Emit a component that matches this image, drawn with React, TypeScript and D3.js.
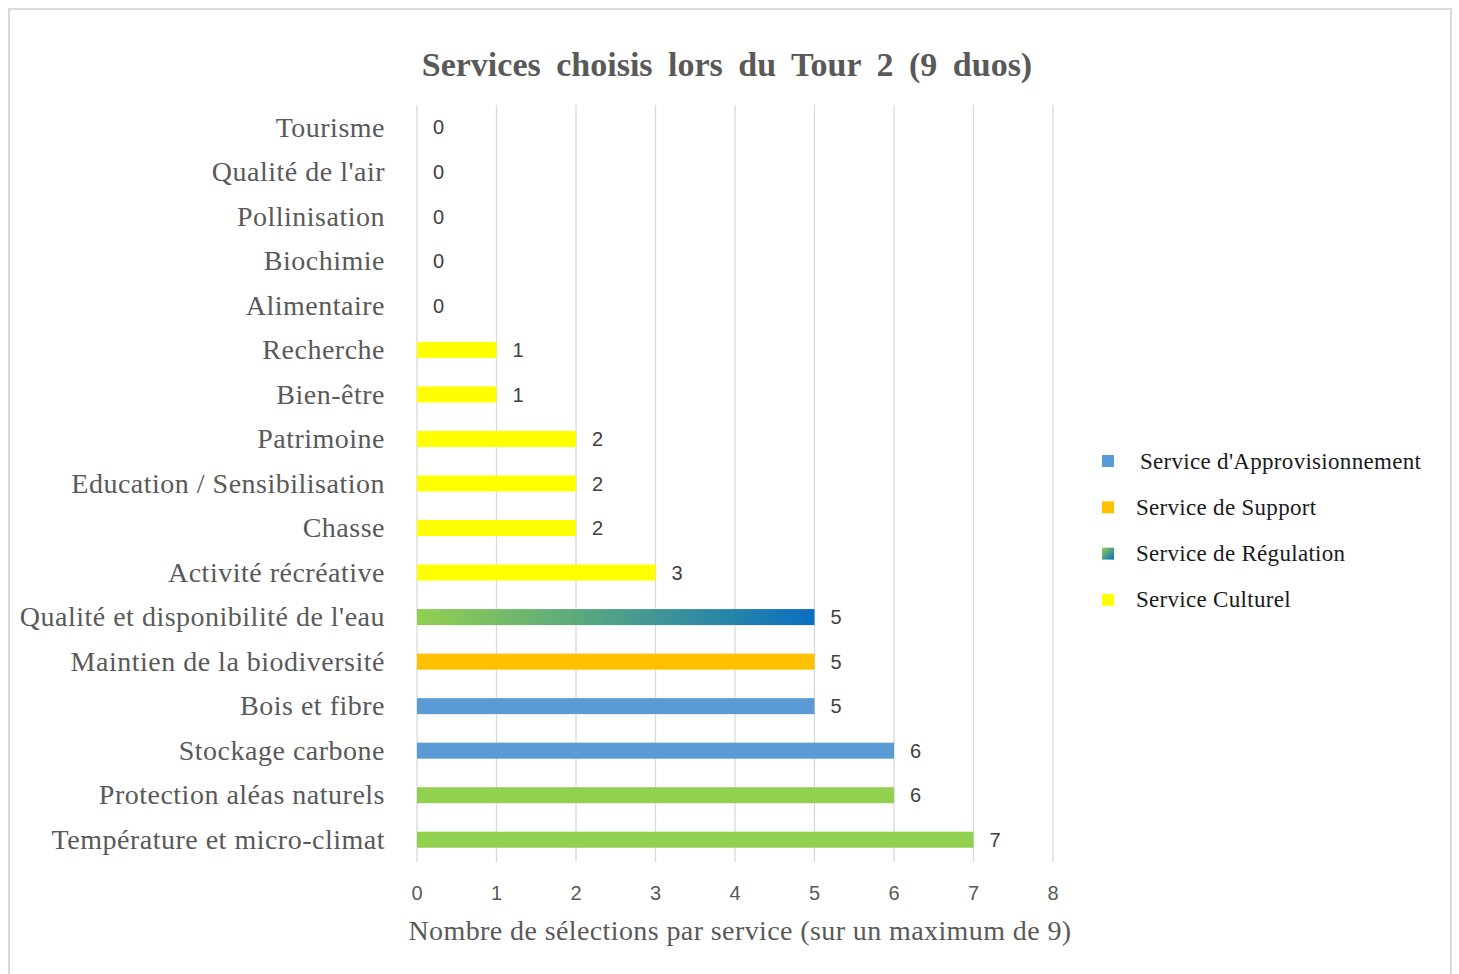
import * as d3 from 'd3';

const categories = [
  'Tourisme', "Qualité de l'air", 'Pollinisation', 'Biochimie', 'Alimentaire',
  'Recherche', 'Bien-être', 'Patrimoine', 'Education / Sensibilisation', 'Chasse',
  'Activité récréative', "Qualité et disponibilité de l'eau", 'Maintien de la biodiversité',
  'Bois et fibre', 'Stockage carbone', 'Protection aléas naturels', 'Température et micro-climat',
];
const values = [0, 0, 0, 0, 0, 1, 1, 2, 2, 2, 3, 5, 5, 5, 6, 6, 7];
const serviceType = [
  'cult', 'reg', 'reg', 'appro', 'appro',
  'cult', 'cult', 'cult', 'cult', 'cult',
  'cult', 'reg2', 'supp', 'appro', 'appro', 'reg', 'reg',
];
const xTicks = [0, 1, 2, 3, 4, 5, 6, 7, 8];
const legendItems = [
  { key: 'appro', label: "Service d'Approvisionnement" },
  { key: 'supp', label: 'Service de Support' },
  { key: 'reg2', label: 'Service de Régulation' },
  { key: 'cult', label: 'Service Culturel' },
];

const colors: Record<string, string> = {
  appro: '#5b9bd5',
  supp: '#ffc000',
  reg: '#92d050',
  reg2: 'url(#regGrad)',
  cult: '#ffff00',
};

export default function App() {
  const W = 1459, H = 974;
  const x = d3.scaleLinear().domain([0, 8]).range([417, 1053]);
  const y = d3.scaleBand().domain(categories).range([105, 862]).paddingInner(0.64).paddingOuter(0.32);
  const serif = '"Liberation Serif", "Times New Roman", serif';
  const sans = '"Liberation Sans", Arial, sans-serif';

  return (
    <svg width={W} height={H} style={{ position: 'absolute', left: 0, top: 0, background: '#fff' }}>
      <defs>
        <linearGradient id="regGrad" x1="0" x2="1" y1="0" y2="0">
          <stop offset="0" stopColor="#92d050" />
          <stop offset="1" stopColor="#0a6fc2" />
        </linearGradient>
        <linearGradient id="regGradLeg" x1="0" x2="1" y1="0" y2="1">
          <stop offset="0" stopColor="#92d050" />
          <stop offset="1" stopColor="#0a6fc2" />
        </linearGradient>
      </defs>
      <rect x={9} y={9} width={1442} height={1000} fill="#fff" stroke="#d9d9d9" strokeWidth={2} />

      <text x={727} y={76} textAnchor="middle" fontFamily={serif} fontWeight="bold" fontSize={34}
        fill="#595959" wordSpacing={7}>
        Services choisis lors du Tour 2 (9 duos)
      </text>

      {xTicks.map(t => (
        <line key={t} x1={x(t)} x2={x(t)} y1={105} y2={862} stroke="#d9d9d9" strokeWidth={1.3} />
      ))}

      {categories.map((c, i) => {
        const yy = y(c)!;
        const bw = y.bandwidth();
        return (
          <g key={c}>
            {values[i] > 0 && (
              <rect x={x(0)} y={yy} width={x(values[i]) - x(0)} height={bw}
                fill={colors[serviceType[i]]} />
            )}
            <text x={x(values[i]) + 16} y={yy + bw / 2} dy="0.36em" fontFamily={sans}
              fontSize={20} fill="#404040">{values[i]}</text>
            <text x={385} y={yy + bw / 2} dy="0.33em" textAnchor="end" fontFamily={serif}
              fontSize={28} letterSpacing={0.5} fill="#595959">{c}</text>
          </g>
        );
      })}

      {xTicks.map(t => (
        <text key={t} x={x(t)} y={893} dy="0.36em" textAnchor="middle" fontFamily={sans}
          fontSize={20} fill="#595959">{t}</text>
      ))}

      <text x={740} y={940} textAnchor="middle" fontFamily={serif} fontSize={28} fill="#595959"
        letterSpacing={0.4}>
        Nombre de sélections par service (sur un maximum de 9)
      </text>

      {legendItems.map((l, i) => {
        const ly = 461 + i * 46.3;
        return (
          <g key={l.key}>
            <rect x={1102} y={ly - 6} width={12} height={12}
              fill={l.key === 'reg2' ? 'url(#regGradLeg)' : colors[l.key]} />
            <text x={i === 0 ? 1140 : 1136} y={ly} dy="0.33em" fontFamily={serif} fontSize={23}
              letterSpacing={0.3} fill="#1a1a1a">{l.label}</text>
          </g>
        );
      })}
    </svg>
  );
}
